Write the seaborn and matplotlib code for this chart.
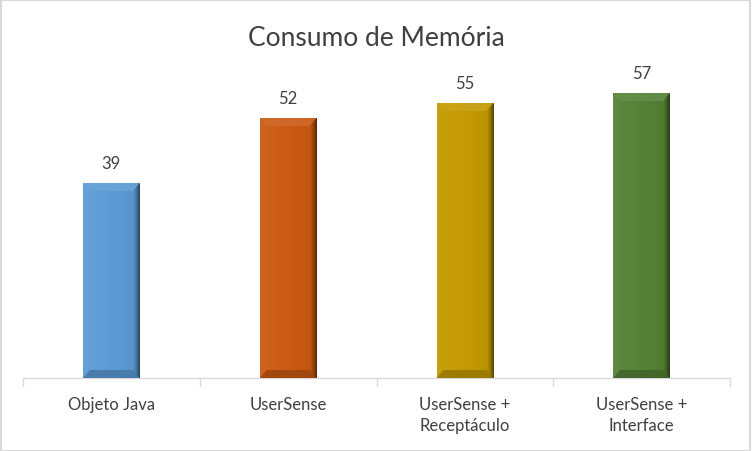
import matplotlib
matplotlib.use("Agg")
import matplotlib.pyplot as plt
import seaborn as sns
import pandas as pd
import numpy as np
from matplotlib.patches import Polygon, Rectangle
import matplotlib.colors as mcolors

categories = ["Objeto Java", "UserSense", "UserSense +\nReceptáculo", "UserSense +\nInterface"]
values = [39, 52, 55, 57]
colors = ["#5B9BD5", "#CB5A12", "#C49A00", "#548235"]
title = "Consumo de Memória"

sns.set_theme(style="white")
plt.rcParams['font.family'] = ['Lato', 'DejaVu Sans']

df = pd.DataFrame({"cat": categories, "val": values})

fig = plt.figure(figsize=(7.52, 4.52), dpi=100)
ax = fig.add_axes([23/752, (452-379)/452, (730-23)/752, (379-79)/452])
sns.barplot(data=df, x="cat", y="val", hue="cat", palette=colors, width=0.32,
            legend=False, ax=ax, saturation=1, edgecolor="none")
ax.set_ylim(0, 60)
ax.set_xlim(-0.5, 3.5)

def shade(c, f):
    r, g, b = mcolors.to_rgb(c)
    if f >= 0:
        return (r + (1 - r) * f, g + (1 - g) * f, b + (1 - b) * f)
    return (r * (1 + f), g * (1 + f), b * (1 + f))

# bevel effect derived from bar geometry
for p, c, v in zip(ax.patches, colors, values):
    x0 = p.get_x(); w = p.get_width(); h = p.get_height()
    x1 = x0 + w
    grad = np.linspace(0, 1, 200)
    cols = []
    for t in grad:
        f = 0.06 * (1 - t) - 0.06 * t
        if t > 0.88:
            f = -0.06 - 0.5 * ((t - 0.88) / 0.12) ** 1.3
        cols.append(shade(c, f))
    img = np.array([cols])
    ax.imshow(img, extent=[x0, x1, 0, h], aspect="auto", zorder=3, interpolation="bilinear")
    dx = w * 0.12
    dy = 1.6
    ax.add_patch(Polygon([[x0, h], [x1, h], [x1 - dx, h - dy], [x0 + dx, h - dy]],
                         closed=True, facecolor=shade(c, 0.1), edgecolor="none", zorder=4, alpha=0.85))
    ax.add_patch(Polygon([[x0, 0], [x1, 0], [x1 - dx, dy], [x0 + dx, dy]],
                         closed=True, facecolor=shade(c, -0.22), edgecolor="none", zorder=4, alpha=0.9))
    ax.text(x0 + w / 2, h + 2.4, str(v), ha="center", va="bottom", fontsize=12,
            color="#404040", zorder=5)
ax.set_ylim(0, 60)
ax.set_xlim(-0.5, 3.5)

for s in ["top", "right", "left"]:
    ax.spines[s].set_visible(False)
ax.spines["bottom"].set_color("#D9D9D9")
ax.spines["bottom"].set_linewidth(1)
ax.set_yticks([])
ax.set_xlabel("")
ax.set_ylabel("")
ax.set_xticks([0, 1, 2, 3])
ax.set_xticklabels(categories, fontsize=12, color="#404040", linespacing=1.35)
ax.tick_params(axis="x", length=0, pad=13)
for b in [-0.5, 0.5, 1.5, 2.5, 3.5]:
    ax.plot([b, b], [0, -1.6], color="#D9D9D9", lw=1, clip_on=False, zorder=1)

fig.suptitle(title, x=0.5, y=0.942, fontsize=19, color="#404040")

fig.patches.append(Rectangle((0.001, 0.001), 0.997, 0.996, transform=fig.transFigure,
                             fill=False, edgecolor="#D9D9D9", lw=1.5))
fig.savefig("out.png", dpi=100)
